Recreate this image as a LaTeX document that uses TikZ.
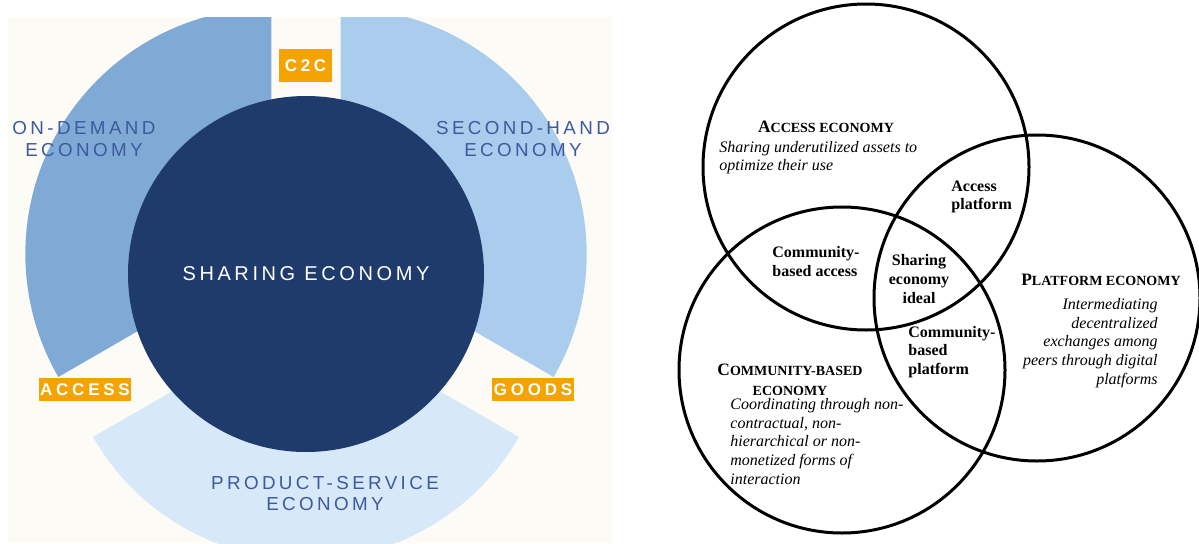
\documentclass[tikz,border=0pt]{standalone}
\usepackage{fontspec}
\setmainfont{Liberation Serif}
\newfontfamily\widesans[LetterSpace=18]{Liberation Sans}
\newfontfamily\tagsans[LetterSpace=22]{Liberation Sans}
\usetikzlibrary{positioning}
\definecolor{shareCream}{RGB}{253,251,246}
\definecolor{shareNavy}{RGB}{31,59,108}
\definecolor{shareOrange}{RGB}{245,163,0}
\definecolor{shareText}{RGB}{61,90,158}
\definecolor{onDemand}{RGB}{128,170,214}
\definecolor{secondHand}{RGB}{170,205,237}
\definecolor{prodService}{RGB}{215,233,248}
% small caps by hand: big initial, smaller rest
\newcommand{\smc}[2]{{\fontsize{8.7pt}{10pt}\selectfont #1}{\fontsize{7pt}{10pt}\selectfont #2}}

\begin{document}
\begin{tikzpicture}[x=0.5pt,y=0.5pt,
  tag/.style={rectangle,fill=shareOrange,text=white,inner sep=0pt,
              minimum height=11.5pt,font=\tagsans\bfseries\fontsize{8.5pt}{10pt}\selectfont},
  ring/.style={text=shareText,align=center,
               font=\widesans\fontsize{9.4pt}{10.8pt}\selectfont},
  set/.style={circle,draw=black,line width=1.5pt,minimum size=163pt,inner sep=0pt},
  hd/.style={font=\bfseries,align=center,inner sep=0pt},
  desc/.style={font=\itshape\fontsize{8pt}{9.3pt}\selectfont,inner sep=0pt},
  ovl/.style={font=\bfseries\fontsize{8pt}{9.3pt}\selectfont,inner sep=0pt}
]
\fill[white] (0,0) rectangle (1199,543);
\useasboundingbox (0,0) rectangle (1199,543);

% Wheel: three economies pulled apart around the sharing economy
\coordinate (hub) at (306,269);
\begin{scope}
  \clip (8,0) rectangle (612,526);
  \fill[shareCream] (8,0) rectangle (612,526);
  \foreach \s/\c in {90/onDemand,-30/secondHand,210/prodService}
    \fill[\c,shift={(\s+60:40)}] (306,269) -- ++(\s:246)
      arc[start angle=\s,end angle=\s+120,radius=246] -- cycle;
\end{scope}
\node[circle,fill=shareNavy,minimum size=178pt,inner sep=0pt,text=white,
      font=\widesans\fontsize{10pt}{12pt}\selectfont] (core) at (hub) {SHARING ECONOMY};
% Gap tags
\node[tag,minimum width=26.5pt,minimum height=16.5pt] (c2c) at (305.5,477.5) {C2C};
\node[tag,minimum width=46pt] (access) at (85,153.5) {ACCESS};
\node[tag,minimum width=41pt] (goods) at (533,153.5) {GOODS};
% Segment labels
\node[ring] (ondemand) at (84,404) {ON-DEMAND\\ECONOMY};
\node[ring] (secondhand) at (523,404) {SECOND-HAND\\ECONOMY};
\node[ring] (prodserv) at (325,49.5) {PRODUCT-SERVICE\\ECONOMY};

% Venn diagram
\node[set] (accSet) at (866,376) {};
\node[set] (platSet) at (1037,245) {};
\node[set] (commSet) at (842,173) {};
\node[hd] (accHd) at (826,416) {\smc{A}{CCESS ECONOMY}};
\node[desc,align=left,anchor=west] (accTxt) at (719,385.5)
  {Sharing underutilized assets to\\optimize their use};
\node[hd] (platHd) at (1101,263) {\smc{P}{LATFORM ECONOMY}};
\node[desc,align=right,anchor=east] (platTxt) at (1158,200)
  {Intermediating\\decentralized\\exchanges among\\peers through digital\\platforms};
\node[hd,font=\bfseries\fontsize{8.7pt}{10pt}\selectfont] (commHd) at (790,163)
  {\smc{C}{OMMUNITY-BASED}\\\smc{}{ECONOMY}};
\node[desc,align=left,anchor=west] (commTxt) at (730,101.5)
  {Coordinating through non-\\contractual, non-\\hierarchical or non-\\monetized forms of\\interaction};
% Overlaps
\node[ovl,align=left,anchor=west] (accPlat) at (951,346) {Access\\platform};
\node[ovl,align=left,anchor=west] (commAcc) at (772,281.5) {Community-\\based access};
\node[ovl,align=center] (ideal) at (919,264) {Sharing\\economy\\ideal};
\node[ovl,align=left,anchor=west] (commPlat) at (908,191) {Community-\\based\\platform};
\end{tikzpicture}
\end{document}
